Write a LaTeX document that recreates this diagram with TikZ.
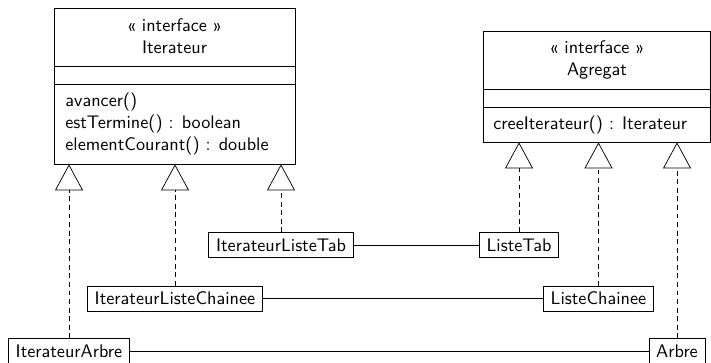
\documentclass[tikz,border=0pt]{standalone}
\usepackage{fontspec}
\usetikzlibrary{arrows.meta,fit}
\begin{document}
\begin{tikzpicture}[x=0.5495pt,y=-0.5495pt, font=\sffamily,
  classbox/.style={draw, inner sep=0pt},
  leaf/.style={draw, inner xsep=4pt, inner ysep=0pt, minimum height=13.7pt},
  realize/.style={dash pattern=on 2.7pt off 2pt, -{Triangle[open,length=14.3pt,width=15.4pt]}},
  assoc/.style={draw}]
\useasboundingbox (0,0) rectangle (711,362);
\clip (0,0) rectangle (711,362);
% Iterateur interface
\node[classbox, fit={(54,8) (295,164)}] (iter) {};
\draw (54,66) -- (295,66);
\draw (54,84) -- (295,84);
\node[align=center] (itertitle) at (174.5,36) {« interface »\\Iterateur};
\node[anchor=west, align=left, inner sep=0pt] (itermeth) at (65,124)
  {avancer()\\estTermine() : boolean\\elementCourant() : double};
% Agregat interface
\node[classbox, fit={(483,31) (710.5,142)}] (agr) {};
\draw (483,89) -- (710.5,89);
\draw (483,107) -- (710.5,107);
\node[align=center] (agrtitle) at (597,60) {« interface »\\Agregat};
\node[anchor=west, inner sep=0pt] (agrmeth) at (493,124.5) {creeIterateur() : Iterateur};
% concrete classes
\node[leaf] (ilt) at (281,245) {IterateurListeTab};
\node[leaf] (lt) at (519,245) {ListeTab};
\node[leaf] (ilc) at (175,298.5) {IterateurListeChainee};
\node[leaf] (lc) at (598.5,298.5) {ListeChainee};
\node[leaf] (ia) at (69,351) {IterateurArbre};
\node[leaf] (arbre) at (677,351) {Arbre};
% realizations
\draw[realize] (ia.north) -- (ia.north |- iter.south);
\draw[realize] (ilc.north) -- (ilc.north |- iter.south);
\draw[realize] (ilt.north) -- (ilt.north |- iter.south);
\draw[realize] (lt.north) -- (lt.north |- agr.south);
\draw[realize] (lc.north) -- (lc.north |- agr.south);
\draw[realize] (arbre.north) -- (arbre.north |- agr.south);
% associations
\draw[assoc] (ilt) -- (lt);
\draw[assoc] (ilc) -- (lc);
\draw[assoc] (ia) -- (arbre);
\end{tikzpicture}
\end{document}
